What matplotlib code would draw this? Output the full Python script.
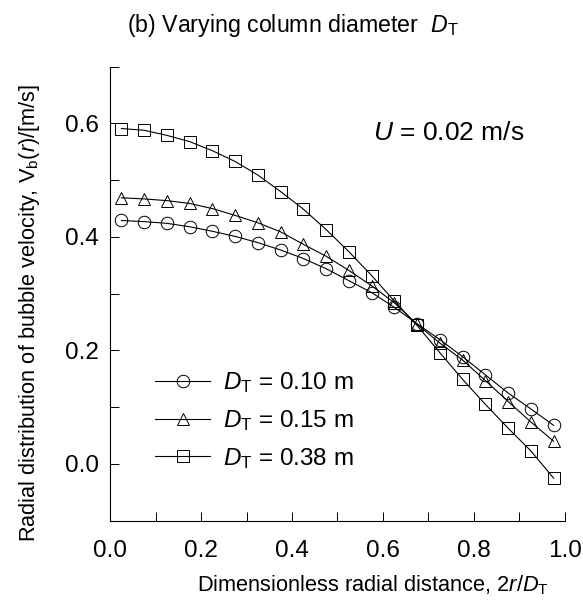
## Radial distribution of bubble velocity for varying column diameter
import matplotlib
matplotlib.use('Agg')
import matplotlib.pyplot as plt
import numpy as np

plt.rcParams['font.family'] = ['Liberation Sans', 'DejaVu Sans']
plt.rcParams['mathtext.fontset'] = 'custom'
plt.rcParams['mathtext.rm'] = 'Liberation Sans'
plt.rcParams['mathtext.it'] = 'Liberation Sans:italic'

# data
r = [0.025, 0.075, 0.125, 0.175, 0.225, 0.275, 0.325, 0.375, 0.425, 0.475,
     0.525, 0.575, 0.625, 0.675, 0.725, 0.775, 0.825, 0.875, 0.925, 0.975]
vb_010 = [0.429, 0.427, 0.424, 0.418, 0.410, 0.401, 0.390, 0.377, 0.362, 0.344,
          0.323, 0.302, 0.276, 0.247, 0.219, 0.189, 0.157, 0.125, 0.097, 0.068]
vb_015 = [0.469, 0.467, 0.464, 0.459, 0.450, 0.438, 0.425, 0.409, 0.387, 0.366,
          0.341, 0.314, 0.284, 0.246, 0.213, 0.183, 0.147, 0.110, 0.074, 0.040]
vb_038 = [0.591, 0.588, 0.579, 0.568, 0.552, 0.533, 0.509, 0.480, 0.449, 0.413,
          0.374, 0.332, 0.287, 0.244, 0.196, 0.149, 0.105, 0.063, 0.023, -0.025]
labels = ['0.10', '0.15', '0.38']
markers = ['o', '^', 's']
msizes = [9, 9, 8]

fig = plt.figure(figsize=(5.83, 6.12), dpi=100)
ax = fig.add_axes([0.1887, 0.1492, 0.9691 - 0.1887, 0.891 - 0.1492])

for vb, lab, m, ms in zip([vb_010, vb_015, vb_038], labels, markers, msizes):
    ax.plot(r, vb, color='black', lw=0.8, marker=m, ms=ms, mfc='none',
            mec='black', mew=0.7,
            label=r'$\it{D}_\mathrm{T}$ = ' + lab + ' m')

ax.set_xlim(0, 1.0)
ax.set_ylim(-0.1, 0.7)
ax.set_xticks(np.arange(0, 1.01, 0.1))
ax.set_xticklabels(['0.0' if i == 0 else ('%.1f' % (i / 10) if i % 2 == 0 else '') for i in range(11)])
ax.set_yticks(np.arange(-0.1, 0.71, 0.1))
ax.set_yticklabels(['', '0.0', '', '0.2', '', '0.4', '', '0.6', ''])
ax.tick_params(direction='in', length=6.5, width=0.7, labelsize=17.5)
ax.tick_params(axis='x', pad=14)
ax.tick_params(axis='y', pad=8)
for s in ['top', 'right']:
    ax.spines[s].set_visible(False)
for s in ['left', 'bottom']:
    ax.spines[s].set_linewidth(0.8)

ax.legend(loc='lower left', bbox_to_anchor=(0.099, 0.11), frameon=False,
          fontsize=17.5, handlelength=2.26, handletextpad=0.55, labelspacing=0.53,
          borderpad=0, borderaxespad=0)

ax.text(0.578, 0.853, r'$\it{U}$ = 0.02 m/s', transform=ax.transAxes,
        fontsize=19, va='center')

fig.text(0.217, 0.959, r'(b) Varying column diameter  $\it{D}_\mathrm{T}$', ha='left',
         va='center', fontsize=16.7)
fig.text(0.051, 0.489, r'Radial distribution of bubble velocity, V$_\mathrm{b}$($\it{r}$)/[m/s]',
         rotation=90, ha='center', va='center', fontsize=15.7)
fig.text(0.639, 0.044, r'Dimensionless radial distance, 2$\it{r}$/$\it{D}_\mathrm{T}$',
         ha='center', va='center', fontsize=15.7)

plt.savefig('out.png', dpi=100)
